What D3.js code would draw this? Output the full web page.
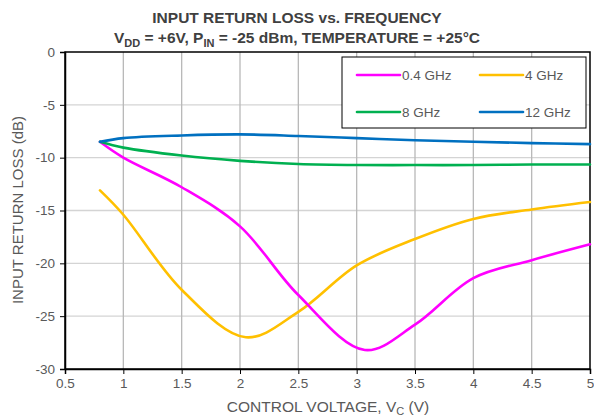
<!DOCTYPE html>
<html><head><meta charset="utf-8">
<script src="https://cdn.jsdelivr.net/npm/d3@7/dist/d3.min.js"></script>
<style>body{margin:0;background:#fff}svg{display:block}text{font-family:"Liberation Sans",Arial,sans-serif}</style>
</head><body><svg id="c" width="594" height="419"></svg>
<script>
const xTicks = [0.5,1,1.5,2,2.5,3,3.5,4,4.5,5];
const yTicks = [0,-5,-10,-15,-20,-25,-30];
const seriesNames = ["0.4 GHz","4 GHz","8 GHz","12 GHz"];
const seriesColors = ["#ff00ff","#ffc000","#00b050","#0070c0"];
const v04 = [[0.8,-8.5],[1.0,-10.0],[1.5,-12.8],[2.0,-16.5],[2.5,-23.0],[3.07,-28.2],[3.5,-25.8],[4.0,-21.4],[4.5,-19.7],[5.0,-18.2]];
const v4 = [[0.8,-13.1],[1.0,-15.4],[1.5,-22.5],[2.05,-27.0],[2.5,-24.6],[3.0,-20.2],[3.5,-17.7],[4.0,-15.8],[4.5,-14.9],[5.0,-14.2]];
const v8 = [[0.8,-8.5],[1.0,-9.05],[1.5,-9.8],[2.0,-10.3],[2.5,-10.6],[3.0,-10.7],[3.5,-10.7],[4.0,-10.7],[4.5,-10.65],[5.0,-10.65]];
const v12 = [[0.8,-8.5],[1.0,-8.15],[1.5,-7.9],[2.0,-7.8],[2.5,-7.95],[3.0,-8.15],[3.5,-8.35],[4.0,-8.5],[4.5,-8.62],[5.0,-8.72]];
const seriesData = [v04, v4, v8, v12];

const svg = d3.select("#c");
const L=65, R=590, T=52, B=369;
const x = d3.scaleLinear().domain([0.5,5]).range([L,R]);
const y = d3.scaleLinear().domain([-30,0]).range([B,T]);

// grid
svg.append("g").selectAll("line").data(yTicks.slice(1,-1)).join("line")
  .attr("x1",L).attr("x2",R).attr("y1",d=>y(d)).attr("y2",d=>y(d))
  .attr("stroke","#d4d4d4").attr("stroke-width",1.3);
svg.append("g").selectAll("line").data(xTicks.slice(1,-1)).join("line")
  .attr("x1",d=>x(d)).attr("x2",d=>x(d)).attr("y1",T).attr("y2",B)
  .attr("stroke","#b8b8b8").attr("stroke-width",1.3);

// frame
svg.append("rect").attr("x",L).attr("y",T).attr("width",R-L).attr("height",B-T)
  .attr("fill","none").attr("stroke","#000").attr("stroke-width",1.5);

// axes
const fmt = d=>String(d);
const xa = svg.append("g").attr("transform",`translate(0,${B})`)
  .call(d3.axisBottom(x).tickValues(xTicks).tickSize(5).tickPadding(4).tickFormat(fmt));
const ya = svg.append("g").attr("transform",`translate(${L},0)`)
  .call(d3.axisLeft(y).tickValues(yTicks).tickSize(5).tickPadding(5).tickFormat(fmt));
[xa,ya].forEach(a=>{
  a.select(".domain").attr("stroke","#000").attr("stroke-width",1.5);
  a.selectAll(".tick line").attr("stroke","#000");
  a.selectAll(".tick text").attr("fill","#595959").style("font-size","13.5px").style("font-family","'Liberation Sans',Arial,sans-serif");
});

// lines
const line = d3.line().x(d=>x(d[0])).y(d=>y(d[1])).curve(d3.curveCatmullRom.alpha(0.5));
const order = [1,0,2,3];
order.forEach(i=>{
  svg.append("path").datum(seriesData[i]).attr("d",line)
    .attr("fill","none").attr("stroke",seriesColors[i]).attr("stroke-width",2.6)
    .attr("stroke-linecap","round");
});

// legend
svg.append("rect").attr("x",342).attr("y",57).attr("width",244).attr("height",71)
  .attr("fill","#fff").attr("stroke","#000").attr("stroke-width",1);
const legPos = [[357,75],[480,75],[357,112],[480,112]];
seriesNames.forEach((n,i)=>{
  const [lx,ly]=legPos[i];
  svg.append("line").attr("x1",lx).attr("x2",lx+43).attr("y1",ly).attr("y2",ly)
    .attr("stroke",seriesColors[i]).attr("stroke-width",2.6).attr("stroke-linecap","round");
  svg.append("text").attr("x",lx+45).attr("y",ly+5).text(n)
    .attr("fill","#595959").style("font-size","13.5px");
});

// titles
svg.append("text").attr("x",297).attr("y",23).attr("text-anchor","middle")
  .attr("fill","#404040").style("font-size","15.5px").style("font-weight","bold")
  .text("INPUT RETURN LOSS vs. FREQUENCY");
const t2 = svg.append("text").attr("x",297).attr("y",43).attr("text-anchor","middle")
  .attr("fill","#404040").style("font-size","15.5px").style("font-weight","bold");
t2.append("tspan").text("V");
t2.append("tspan").attr("dy",4).style("font-size","11px").text("DD");
t2.append("tspan").attr("dy",-4).text(" = +6V, P");
t2.append("tspan").attr("dy",4).style("font-size","11px").text("IN");
t2.append("tspan").attr("dy",-4).text(" = -25 dBm, TEMPERATURE = +25°C");

const xl = svg.append("text").attr("x",328).attr("y",412).attr("text-anchor","middle")
  .attr("fill","#595959").style("font-size","15.5px");
xl.append("tspan").text("CONTROL VOLTAGE, V");
xl.append("tspan").attr("dy",3).style("font-size","11px").text("C");
xl.append("tspan").attr("dy",-3).text(" (V)");

svg.append("text").attr("transform","translate(23,210) rotate(-90)").attr("text-anchor","middle")
  .attr("fill","#595959").style("font-size","15px").text("INPUT RETURN LOSS (dB)");
</script></body></html>
